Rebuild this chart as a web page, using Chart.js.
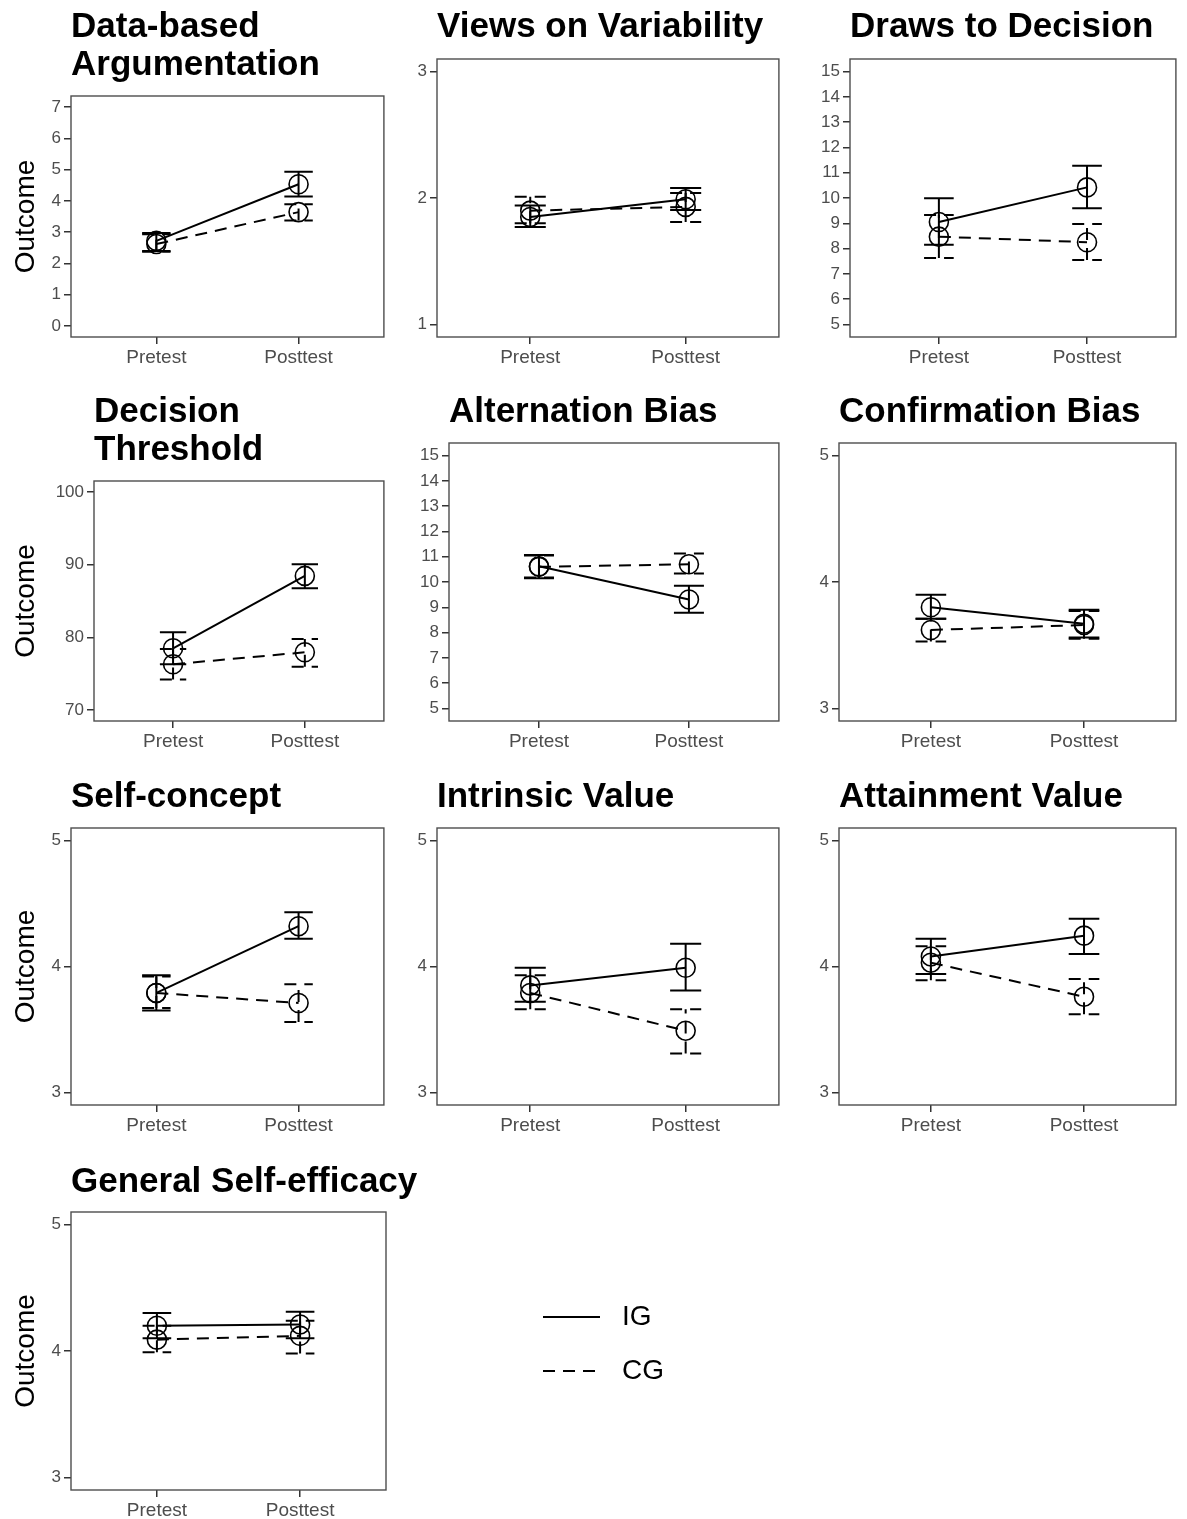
<!DOCTYPE html>
<html>
<head>
<meta charset="utf-8">
<script src="https://cdn.jsdelivr.net/npm/chart.js@4.4.0/dist/chart.umd.min.js"></script>
<style>
html, body { margin: 0; padding: 0; background: #ffffff; }
body { width: 1187px; height: 1519px; position: relative; overflow: hidden; }
canvas { position: absolute; }
</style>
</head>
<body>
<script>
// ---------------- DATA ----------------
const panelTitles = [
  ['Data-based', 'Argumentation'],
  ['Views on Variability'],
  ['Draws to Decision'],
  ['Decision', 'Threshold'],
  ['Alternation Bias'],
  ['Confirmation Bias'],
  ['Self-concept'],
  ['Intrinsic Value'],
  ['Attainment Value'],
  ['General Self-efficacy']
];
const timeLabels = ['Pretest', 'Posttest'];
const groupNames = ['IG', 'CG'];
const yAxisTitle = 'Outcome';

const yLimits = [[0, 7], [1, 3], [5, 15], [70, 100], [5, 15], [3, 5], [3, 5], [3, 5], [3, 5], [3, 5]];
const yTicks = [
  [0, 1, 2, 3, 4, 5, 6, 7],
  [1, 2, 3],
  [5, 6, 7, 8, 9, 10, 11, 12, 13, 14, 15],
  [70, 80, 90, 100],
  [5, 6, 7, 8, 9, 10, 11, 12, 13, 14, 15],
  [3, 4, 5],
  [3, 4, 5],
  [3, 4, 5],
  [3, 4, 5],
  [3, 4, 5]
];

// [pretest, posttest] per panel
const igMean  = [[2.72, 4.53], [1.85, 1.99], [9.05, 10.42], [78.5, 88.45], [10.62, 9.31], [3.80, 3.67], [3.79, 4.32], [3.85, 3.99], [4.08, 4.245], [4.20, 4.21]];
const igLower = [[2.40, 4.14], [1.77, 1.905], [8.15, 9.59], [76.3, 86.77], [10.15, 8.78], [3.71, 3.56], [3.65, 4.22], [3.72, 3.81], [3.94, 4.10], [4.10, 4.10]];
const igUpper = [[2.97, 4.93], [1.94, 2.08], [9.99, 11.28], [80.7, 90.05], [11.07, 9.85], [3.90, 3.78], [3.93, 4.43], [3.99, 4.18], [4.22, 4.38], [4.30, 4.31]];
const cgMean  = [[2.62, 3.64], [1.90, 1.93], [8.47, 8.25], [76.3, 77.95], [10.60, 10.70], [3.62, 3.66], [3.79, 3.71], [3.79, 3.49], [4.03, 3.76], [4.09, 4.12]];
const cgLower = [[2.37, 3.37], [1.80, 1.81], [7.63, 7.55], [74.2, 75.95], [10.18, 10.34], [3.53, 3.55], [3.67, 3.56], [3.66, 3.31], [3.89, 3.62], [3.99, 3.98]];
const cgUpper = [[2.93, 3.89], [2.01, 2.04], [9.33, 8.97], [78.4, 79.78], [11.05, 11.13], [3.71, 3.77], [3.92, 3.86], [3.93, 3.66], [4.16, 3.90], [4.20, 4.24]];

// ---------------- LAYOUT ----------------
const cells = [
  {x: 0, y: 0, w: 395, h: 385}, {x: 395, y: 0, w: 395, h: 385}, {x: 790, y: 0, w: 397, h: 385},
  {x: 0, y: 385, w: 395, h: 385}, {x: 395, y: 385, w: 395, h: 385}, {x: 790, y: 385, w: 397, h: 385},
  {x: 0, y: 770, w: 395, h: 385}, {x: 395, y: 770, w: 395, h: 385}, {x: 790, y: 770, w: 397, h: 385},
  {x: 0, y: 1155, w: 520, h: 364}
];
const boxes = [
  {l: 71, t: 96, r: 386, b: 337}, {l: 437, t: 59, r: 786, b: 337}, {l: 850, t: 59, r: 1186, b: 337},
  {l: 94, t: 481, r: 386, b: 721}, {l: 449, t: 443, r: 786, b: 721}, {l: 839, t: 443, r: 1186, b: 721},
  {l: 71, t: 828, r: 386, b: 1105}, {l: 437, t: 828, r: 786, b: 1105}, {l: 839, t: 828, r: 1186, b: 1105},
  {l: 71, t: 1212, r: 386, b: 1490}
];
const showYTitle = [true, false, false, true, false, false, true, false, false, true];
const FONT = "'Liberation Sans', Arial, Helvetica, sans-serif";
const CAP = 0.1;            // half width of error-bar caps (x units)
const DASH = [12, 8];

Chart.defaults.font.family = FONT;

const panelDecor = {
  id: 'panelDecor',
  afterDraw(chart, args, opts) {
    const ctx = chart.ctx;
    const a = chart.chartArea;
    ctx.save();
    ctx.strokeStyle = '#4d4d4d';
    ctx.lineWidth = 1.4;
    ctx.strokeRect(a.left, a.top, a.right - a.left, a.bottom - a.top);
    ctx.fillStyle = '#000000';
    ctx.font = 'bold 35px ' + FONT;
    ctx.textAlign = 'left';
    ctx.textBaseline = 'alphabetic';
    opts.lines.forEach((ln, k) => ctx.fillText(ln, a.left, opts.baseline + k * opts.gap));
    ctx.restore();
  }
};

function errorBarPoints(lo, hi) {
  const pts = [];
  for (let t = 0; t < timeLabels.length; t++) {
    const x = t + 1;
    pts.push({x: x, y: lo[t]}, {x: x, y: hi[t]}, {x: x, y: null});
    pts.push({x: x - CAP, y: hi[t]}, {x: x + CAP, y: hi[t]}, {x: x, y: null});
    pts.push({x: x - CAP, y: lo[t]}, {x: x + CAP, y: lo[t]}, {x: x, y: null});
  }
  return pts;
}
function meanPoints(m) {
  return m.map((v, t) => ({x: t + 1, y: v}));
}

panelTitles.forEach((title, i) => {
  const cell = cells[i], box = boxes[i];
  const cv = document.createElement('canvas');
  cv.width = cell.w; cv.height = cell.h;
  cv.style.left = cell.x + 'px'; cv.style.top = cell.y + 'px';
  cv.style.width = cell.w + 'px'; cv.style.height = cell.h + 'px';
  document.body.appendChild(cv);

  const lo = yLimits[i][0], hi = yLimits[i][1];
  const ex = (hi - lo) * 0.05;
  const yAxisWidth = box.l - cell.x;
  const xAxisHeight = cell.y + cell.h - box.b;

  new Chart(cv, {
    type: 'line',
    data: {
      datasets: [
        {label: groupNames[0], data: meanPoints(igMean[i]), borderColor: '#000', borderWidth: 2,
         pointRadius: 9.5, pointBorderWidth: 1.6, pointBorderColor: '#000', pointBackgroundColor: 'rgba(0,0,0,0)', fill: false},
        {label: groupNames[1], data: meanPoints(cgMean[i]), borderColor: '#000', borderWidth: 2, borderDash: DASH,
         pointRadius: 9.5, pointBorderWidth: 1.6, pointBorderColor: '#000', pointBackgroundColor: 'rgba(0,0,0,0)', fill: false},
        {label: groupNames[0] + ' CI', data: errorBarPoints(igLower[i], igUpper[i]), borderColor: '#000', borderWidth: 2,
         pointRadius: 0, fill: false, spanGaps: false},
        {label: groupNames[1] + ' CI', data: errorBarPoints(cgLower[i], cgUpper[i]), borderColor: '#000', borderWidth: 2,
         borderDash: DASH, pointRadius: 0, fill: false, spanGaps: false}
      ]
    },
    options: {
      animation: false,
      responsive: false,
      maintainAspectRatio: false,
      events: [],
      layout: {padding: {top: box.t - cell.y, right: cell.x + cell.w - box.r, left: 0, bottom: 0}},
      scales: {
        x: {
          type: 'linear', min: 0.4, max: 2.6,
          afterBuildTicks: s => { s.ticks = timeLabels.map((_, t) => ({value: t + 1})); },
          afterFit: s => { s.height = xAxisHeight; },
          ticks: {callback: v => timeLabels[Math.round(v) - 1], color: '#4d4d4d', font: {size: 19}, padding: 2, autoSkip: false, maxRotation: 0},
          grid: {drawOnChartArea: false, drawTicks: true, tickLength: 7, color: '#333333', lineWidth: 1.5},
          border: {display: false}
        },
        y: {
          type: 'linear', min: lo - ex, max: hi + ex,
          afterBuildTicks: s => { s.ticks = yTicks[i].map(v => ({value: v})); },
          afterFit: s => { s.width = yAxisWidth; },
          ticks: {color: '#4d4d4d', font: {size: 17}, padding: 3, autoSkip: false},
          grid: {drawOnChartArea: false, drawTicks: true, tickLength: 7, color: '#333333', lineWidth: 1.5},
          border: {display: false},
          title: {display: showYTitle[i], text: yAxisTitle, color: '#000', font: {size: 28}, padding: {top: 9, bottom: 0}}
        }
      },
      plugins: {
        legend: {display: false},
        tooltip: {enabled: false},
        panelDecor: {lines: title, baseline: 37, gap: 38}
      }
    },
    plugins: [panelDecor]
  });
});

// ---------------- LEGEND (a tiny chart: two key lines, labels as right-axis ticks) ----------------
(function () {
  const cv = document.createElement('canvas');
  cv.width = 160; cv.height = 130;
  cv.style.left = '543px'; cv.style.top = '1280px';
  cv.style.width = '160px'; cv.style.height = '130px';
  document.body.appendChild(cv);
  new Chart(cv, {
    type: 'line',
    data: {
      datasets: [
        {label: groupNames[0], data: [{x: 0, y: 1}, {x: 1, y: 1}], borderColor: '#000', borderWidth: 2, pointRadius: 0, clip: false},
        {label: groupNames[1], data: [{x: 0, y: 0}, {x: 1, y: 0}], borderColor: '#000', borderWidth: 2, borderDash: DASH, pointRadius: 0, clip: false}
      ]
    },
    options: {
      animation: false, responsive: false, maintainAspectRatio: false, events: [],
      layout: {padding: {top: 37, bottom: 39, left: 0, right: 0}},
      scales: {
        x: {type: 'linear', display: false, min: 0, max: 1},
        y: {
          type: 'linear', position: 'right', min: 0, max: 1,
          afterBuildTicks: s => { s.ticks = [{value: 1}, {value: 0}]; },
          afterFit: s => { s.width = 103; },
          ticks: {callback: v => groupNames[1 - Math.round(v)], color: '#000', font: {size: 28}, padding: 14, autoSkip: false},
          grid: {display: false},
          border: {display: false}
        }
      },
      plugins: {legend: {display: false}, tooltip: {enabled: false}}
    }
  });
})();
</script>
</body>
</html>
